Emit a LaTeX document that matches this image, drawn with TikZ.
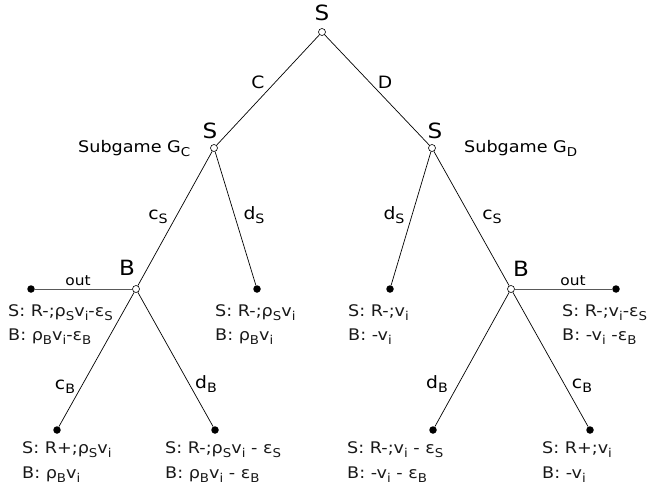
\documentclass[tikz,border=0pt]{standalone}
\usepackage{fontspec}
\setmainfont[FakeStretch=1.1]{DejaVu Sans}
\newcommand\sbs[1]{\raisebox{-0.28em}{\fontsize{0.76\dimexpr\fontdimen6\font\relax}{1em}\selectfont #1}}
\begin{document}
\begin{tikzpicture}[x=1pt,y=-1pt,
  dec/.style={circle,draw,fill=white,inner sep=0pt,minimum size=7pt,line width=0.6pt},
  leaf/.style={circle,fill=black,inner sep=0pt,minimum size=7.5pt},
  edge/.style={line width=0.7pt},
  outedge/.style={line width=1pt,draw=black!65},
  pay/.style={anchor=base west,inner sep=0pt,text=black!90,font=\fontsize{16}{18}\selectfont},
  player/.style={anchor=base,inner sep=0pt,font=\fontsize{21}{24}\selectfont},
  mv/.style={anchor=base,inner sep=0pt,font=\fontsize{17}{20}\selectfont},
  sub/.style={anchor=base west,inner sep=0pt,font=\fontsize{16}{18}\selectfont},
  outlab/.style={anchor=base,inner sep=0pt,font=\fontsize{14}{16}\selectfont}]
\useasboundingbox (0,0) rectangle (652,487);
% decision nodes
\node[dec] (r) at (322,32) {};
\node[dec] (sc) at (214,148) {};
\node[dec] (sd) at (432,148) {};
\node[dec] (bc) at (136,289) {};
\node[dec] (bd) at (511,289) {};
% leaves
\node[leaf] (lo) at (31,289) {};
\node[leaf] (lds) at (257,289) {};
\node[leaf] (rds) at (390,289) {};
\node[leaf] (ro) at (616,289) {};
\node[leaf] (lcb) at (57,430) {};
\node[leaf] (ldb) at (215,430) {};
\node[leaf] (rdb) at (433,430) {};
\node[leaf] (rcb) at (590,430) {};
% edges
\draw[edge] (r) -- (sc);
\draw[edge] (r) -- (sd);
\draw[edge] (sc) -- (bc);
\draw[edge] (sc) -- (lds);
\draw[edge] (sd) -- (rds);
\draw[edge] (sd) -- (bd);
\draw[outedge] (bc) -- (lo);
\draw[outedge] (bd) -- (ro);
\draw[edge] (bc) -- (lcb);
\draw[edge] (bc) -- (ldb);
\draw[edge] (bd) -- (rdb);
\draw[edge] (bd) -- (rcb);
% player labels
\node[player] (pr) at (322,21) {S};
\node[player] (psc) at (210,138) {S};
\node[player] (psd) at (435,138) {S};
\node[player] (pbc) at (127,275) {B};
\node[player] (pbd) at (521,276) {B};
\node[sub] (gc) at (78,152) {Subgame G\sbs{C}};
\node[sub] (gd) at (464,152) {Subgame G\sbs{D}};
% move labels
\node[mv] (mc) at (258,88) {C};
\node[mv] (md) at (385,88) {D};
\node[mv] (mcs1) at (158,219) {c\sbs{S}};
\node[mv] (mds1) at (254,219) {d\sbs{S}};
\node[mv] (mds2) at (394,219) {d\sbs{S}};
\node[mv] (mcs2) at (492,219) {c\sbs{S}};
\node[mv] (mcb1) at (65,389) {c\sbs{B}};
\node[mv] (mdb1) at (206,388) {d\sbs{B}};
\node[mv] (mdb2) at (437,388) {d\sbs{B}};
\node[mv] (mcb2) at (582,388) {c\sbs{B}};
\node[outlab] (o1) at (78,285) {out};
\node[outlab] (o2) at (573,285) {out};
% payoffs
\node[pay] (lo1) at (8,316) {S: R-;ρ\sbs{S}v\sbs{i}-ε\sbs{S}};
\node[pay] (lo2) at (8,340) {B: ρ\sbs{B}v\sbs{i}-ε\sbs{B}};
\node[pay] (lds1) at (215,316) {S: R-;ρ\sbs{S}v\sbs{i}};
\node[pay] (lds2) at (215,340) {B: ρ\sbs{B}v\sbs{i}};
\node[pay] (rds1) at (348,316) {S: R-;v\sbs{i}};
\node[pay] (rds2) at (348,340) {B: -v\sbs{i}};
\node[pay] (ro1) at (562,316) {S: R-;v\sbs{i}-ε\sbs{S}};
\node[pay] (ro2) at (562,340) {B: -v\sbs{i} -ε\sbs{B}};
\node[pay] (lcb1) at (22,453) {S: R+;ρ\sbs{S}v\sbs{i}};
\node[pay] (lcb2) at (22,478) {B: ρ\sbs{B}v\sbs{i}};
\node[pay] (ldb1) at (165,453) {S: R-;ρ\sbs{S}v\sbs{i} - ε\sbs{S}};
\node[pay] (ldb2) at (165,478) {B: ρ\sbs{B}v\sbs{i} - ε\sbs{B}};
\node[pay] (rdb1) at (347,453) {S: R-;v\sbs{i} - ε\sbs{S}};
\node[pay] (rdb2) at (347,478) {B: -v\sbs{i} - ε\sbs{B}};
\node[pay] (rcb1) at (542,453) {S: R+;v\sbs{i}};
\node[pay] (rcb2) at (542,478) {B: -v\sbs{i}};
\end{tikzpicture}
\end{document}
